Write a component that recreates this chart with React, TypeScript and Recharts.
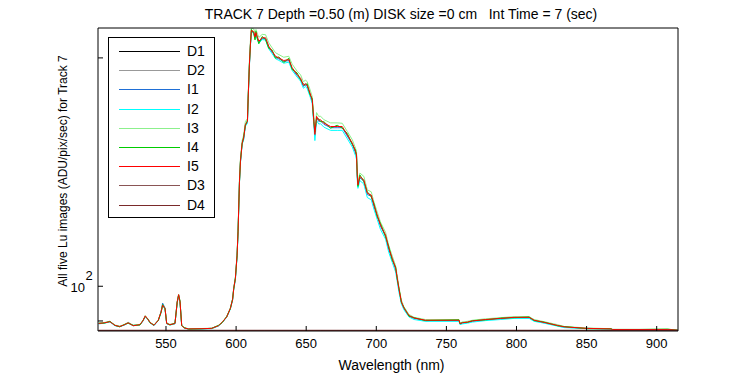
import React from 'react';
import { LineChart, Line, XAxis, YAxis, Legend } from 'recharts';

const WAVELENGTHS = [
  502, 506, 510, 513.6, 517, 520, 523, 526.6, 531.4, 533.5,
  535.2, 537, 538.6, 541.4, 544.5, 546.5, 547.6, 549.3, 550.5, 552.8,
  556.4, 558, 559, 560, 561.2, 563, 566, 575, 582.6, 587.4,
  590, 593.3, 595.9, 597.5, 598.3, 599.5, 600.7, 601.4, 602.4, 603.1,
  604.3, 605.4, 606.6, 608.1, 608.6, 609.5, 610.2, 610.9, 612.6, 613.5,
  614.2, 615, 616.2, 618.6, 621, 623.3, 625.7, 628.1, 630.5, 634,
  637.6, 640, 643.6, 646, 648, 649.5, 650.7, 652.6, 654.3, 655.4,
  656.2, 657.4, 659, 660.2, 662.6, 667.4, 672.1, 675.7, 679.3, 682.9,
  685.2, 685.9, 686.4, 686.9, 688.3, 691.1, 693.6, 696.4, 698.3, 700.6,
  703, 706.6, 708.9, 711.4, 713.8, 715, 716.1, 717.9, 719.7, 723.3,
  727, 735, 759, 759.7, 761.4, 765, 768.6, 778, 788.8, 798.3,
  809, 812.6, 819.7, 829.3, 834, 850.7, 867.4, 868.6, 907.9, 915,
];

const I1 = [
  89.3, 89.5, 89.8, 88.8, 88.5, 88.9, 89.6, 88.8, 89.0, 90.0,
  91.3, 90.5, 89.6, 88.8, 90.2, 92.6, 95.0, 93.6, 89.3, 89.0,
  89.3, 95.3, 97.3, 95.3, 88.8, 88.1, 87.9, 87.9, 88.0, 88.7,
  89.6, 91.1, 93.5, 96.0, 99.3, 102.4, 109.8, 117.8, 137.2, 145.8,
  154.2, 156.5, 163.0, 164.5, 176.8, 195.6, 208.0, 217.0, 216.0, 212.5,
  215.2, 213.0, 209.8, 212.0, 212.0, 206.6, 203.5, 200.4, 199.4, 197.8,
  198.4, 193.5, 189.5, 187.4, 183.4, 184.4, 183.4, 179.4, 175.4, 165.4,
  158.0, 166.9, 164.9, 165.2, 163.5, 161.8, 161.8, 161.8, 157.8, 153.8,
  149.9, 148.4, 139.7, 135.5, 139.0, 137.6, 132.1, 131.4, 127.5, 123.8,
  120.0, 116.4, 111.8, 108.5, 105.3, 102.2, 99.1, 95.3, 93.5, 91.4,
  90.7, 90.1, 90.1, 89.2, 89.4, 89.6, 89.9, 90.3, 90.6, 90.9,
  90.9, 90.1, 89.5, 88.7, 88.3, 88.0, 87.85, 87.7, 87.7, 87.5,
];

const I2 = [
  89.2, 89.4, 89.7, 88.7, 88.5, 88.8, 89.4, 88.7, 88.9, 89.9,
  91.2, 90.4, 89.5, 88.7, 90.1, 92.3, 94.2, 93.3, 89.2, 88.9,
  89.2, 95.1, 97.2, 95.2, 88.7, 88.0, 87.8, 87.8, 87.9, 88.6,
  89.5, 91.0, 93.3, 95.8, 99.0, 102.0, 109.4, 117.5, 136.8, 145.4,
  153.7, 156.0, 162.5, 164.0, 176.2, 195.0, 207.3, 216.4, 215.4, 212.0,
  214.5, 212.4, 209.0, 211.4, 211.2, 205.6, 202.6, 199.5, 198.5, 196.8,
  197.4, 192.5, 188.6, 186.4, 182.4, 183.4, 182.2, 178.2, 174.2, 163.8,
  155.6, 165.4, 163.6, 163.8, 162.1, 160.5, 160.5, 160.5, 156.5, 152.6,
  148.6, 147.0, 138.4, 134.6, 137.8, 136.4, 130.9, 130.0, 126.4, 122.6,
  118.8, 115.4, 110.8, 107.5, 104.4, 101.3, 98.3, 94.8, 93.1, 91.1,
  90.4, 89.9, 89.9, 89.0, 89.2, 89.4, 89.7, 90.1, 90.4, 90.7,
  90.7, 89.9, 89.4, 88.6, 88.2, 87.9, 87.8, 87.6, 87.6, 87.4,
];

const I3 = [
  89.4, 89.6, 89.9, 88.9, 88.6, 89.0, 89.6, 88.8, 89.1, 90.1,
  91.5, 90.6, 89.7, 88.9, 90.3, 92.6, 94.5, 93.6, 89.4, 89.1,
  89.4, 95.5, 97.6, 95.5, 88.9, 88.2, 87.9, 87.95, 88.05, 88.8,
  89.7, 91.2, 93.7, 96.2, 99.6, 102.8, 110.4, 118.6, 138.2, 147.0,
  155.6, 158.2, 164.8, 166.4, 178.8, 198.0, 210.4, 219.0, 218.4, 215.6,
  218.0, 215.8, 212.8, 214.8, 214.6, 209.4, 206.2, 203.2, 202.0, 200.4,
  201.0, 196.2, 192.0, 190.0, 186.0, 187.0, 186.0, 182.0, 177.8, 168.0,
  160.4, 169.4, 167.4, 167.6, 165.8, 164.2, 164.2, 164.0, 160.0, 156.0,
  152.0, 150.5, 141.6, 137.4, 141.0, 139.6, 134.0, 133.2, 129.2, 125.4,
  121.5, 117.8, 113.2, 109.6, 106.4, 103.1, 99.9, 95.9, 94.0, 91.8,
  91.0, 90.4, 90.4, 89.5, 89.7, 89.9, 90.2, 90.6, 90.9, 91.2,
  91.2, 90.4, 89.8, 89.0, 88.5, 88.1, 87.9, 87.75, 87.75, 87.55,
];

const I4 = [
  89.4, 89.4, 89.9, 88.8, 88.4, 89.0, 89.4, 88.8, 88.9, 90.1,
  91.2, 90.6, 89.5, 88.9, 90.1, 92.4, 94.6, 93.4, 89.4, 88.9,
  89.4, 95.2, 97.4, 95.6, 88.7, 88.2, 87.8, 87.9, 88.0, 88.8,
  89.5, 91.2, 93.4, 96.2, 99.1, 102.6, 109.6, 118.3, 137.0, 146.4,
  154.0, 157.4, 162.8, 165.6, 176.6, 196.6, 207.6, 218.0, 215.4, 211.2,
  216.8, 212.4, 208.8, 213.4, 211.4, 205.8, 204.8, 199.8, 200.6, 197.2,
  199.8, 193.0, 191.0, 187.0, 184.8, 184.2, 185.0, 179.0, 176.8, 165.0,
  159.6, 166.4, 166.2, 164.8, 164.8, 161.6, 163.0, 161.6, 159.0, 153.8,
  151.2, 148.4, 141.0, 135.4, 140.2, 137.4, 133.2, 131.2, 128.6, 123.6,
  121.0, 116.2, 112.8, 108.2, 106.0, 102.0, 99.6, 95.2, 93.8, 91.3,
  90.9, 90.1, 90.3, 89.2, 89.6, 89.6, 90.1, 90.3, 90.8, 90.9,
  91.1, 90.1, 89.7, 88.7, 88.5, 87.9, 87.9, 87.6, 87.8, 87.5,
];

const I5 = [
  89.3, 89.5, 89.8, 88.8, 88.5, 88.9, 89.5, 88.7, 89.0, 90.0,
  91.4, 90.5, 89.6, 88.8, 90.2, 92.5, 94.4, 93.5, 89.3, 89.0,
  89.3, 95.4, 97.5, 95.4, 88.8, 88.1, 87.85, 87.9, 88.0, 88.7,
  89.6, 91.1, 93.5, 96.0, 99.3, 102.4, 109.9, 118.0, 137.4, 146.0,
  154.4, 156.8, 163.3, 164.9, 177.1, 196.0, 208.3, 217.4, 216.5, 213.0,
  216.0, 213.6, 210.4, 212.6, 212.6, 207.2, 204.1, 201.0, 200.0, 198.4,
  199.0, 194.1, 190.1, 188.0, 184.0, 185.0, 184.0, 180.0, 176.0, 166.0,
  158.5, 167.5, 165.5, 165.8, 164.1, 162.4, 162.4, 162.4, 158.4, 154.4,
  150.5, 149.0, 140.2, 136.0, 139.5, 138.1, 132.6, 131.9, 128.0, 124.2,
  120.4, 116.8, 112.2, 108.8, 105.6, 102.4, 99.3, 95.4, 93.6, 91.5,
  90.8, 90.2, 90.2, 89.3, 89.5, 89.7, 90.0, 90.4, 90.7, 91.0,
  91.0, 90.2, 89.6, 88.8, 88.4, 88.0, 87.85, 87.7, 87.7, 87.5,
];

const DARK_WAVELENGTHS = [502, 540, 580, 620, 660, 700, 740, 780, 820, 860, 900, 915];
const D1 = [87.4, 87.36, 87.4, 87.38, 87.41, 87.36, 87.4, 87.38, 87.4, 87.37, 87.4, 87.38];
const D2 = [87.42, 87.4, 87.43, 87.39, 87.42, 87.4, 87.41, 87.43, 87.4, 87.42, 87.39, 87.41];
const D3 = [87.47, 87.45, 87.48, 87.46, 87.47, 87.44, 87.47, 87.46, 87.48, 87.45, 87.46, 87.47];
const D4 = [87.46, 87.48, 87.45, 87.47, 87.46, 87.48, 87.45, 87.47, 87.46, 87.47, 87.48, 87.46];

const X_TICKS = [550, 600, 650, 700, 750, 800, 850, 900];
const Y_TICKS = [90, 100, 200];
const X_DOMAIN = [501.5, 915.2];
const Y_DOMAIN = [87.3, 219];

const TITLE = 'TRACK 7 Depth =0.50 (m) DISK size =0 cm   Int Time = 7 (sec)';
const X_LABEL = 'Wavelength (nm)';
const Y_LABEL = 'All five Lu images (ADU/pix/sec) for Track 7';

const SERIES_ORDER = ['D1', 'D2', 'I1', 'I2', 'I3', 'I4', 'I5', 'D3', 'D4'];
const COLORS: Record<string, string> = {
  D1: '#000000',
  D2: '#999999',
  I1: '#1f6fd6',
  I2: '#00ffff',
  I3: '#8cf08c',
  I4: '#00cc00',
  I5: '#ff0000',
  D3: '#8a5555',
  D4: '#7a2a2a',
};

const lightData = WAVELENGTHS.map((w, i) => ({
  w,
  I1: I1[i],
  I2: I2[i],
  I3: I3[i],
  I4: I4[i],
  I5: I5[i],
}));

const darkData = (vals: number[]) => DARK_WAVELENGTHS.map((w, i) => ({ w, v: vals[i] }));
const DARK: Record<string, { w: number; v: number }[]> = {
  D1: darkData(D1),
  D2: darkData(D2),
  D3: darkData(D3),
  D4: darkData(D4),
};

const FONT = '"Liberation Sans", Arial, Helvetica, sans-serif';

const YTick = (props: any) => {
  const { x, y, payload } = props;
  if (payload.value !== 100) return <g />;
  return (
    <g fontFamily={FONT} fill="#000">
      <text x={x - 7} y={y + 5.5} textAnchor="end" fontSize={13}>10</text>
      <text x={x - 6.5} y={y - 6.5} textAnchor="start" fontSize={13}>2</text>
    </g>
  );
};

const renderLegend = (props: any) => {
  const payload = [...(props.payload || [])].sort(
    (a: any, b: any) => SERIES_ORDER.indexOf(a.value) - SERIES_ORDER.indexOf(b.value)
  );
  return (
    <div
      style={{
        width: 107,
        height: 181,
        border: '1px solid #000',
        background: '#fff',
        boxSizing: 'border-box',
        position: 'relative',
        fontFamily: FONT,
      }}
    >
      {payload.map((p: any, i: number) => (
        <div
          key={p.value}
          style={{
            position: 'absolute',
            left: 10,
            top: 5 + i * 19.2,
            height: 16,
            display: 'flex',
            alignItems: 'center',
          }}
        >
          <svg width={62} height={16} style={{ display: 'block' }}>
            <line x1={0} y1={8.5} x2={61} y2={8.5} stroke={p.color} strokeWidth={1} />
          </svg>
          <span style={{ marginLeft: 6, fontSize: 14, lineHeight: '16px', color: '#000' }}>{p.value}</span>
        </div>
      ))}
    </div>
  );
};

export default function App() {
  return (
    <div style={{ position: 'relative', width: 750, height: 375, background: '#fff' }}>
      <style>{`body{margin:0;background:#fff}`}</style>
      <LineChart
        width={750}
        height={375}
        data={lightData}
        margin={{ top: 0, right: 0, bottom: 0, left: 0 }}
      >
        <XAxis
          xAxisId={0}
          dataKey="w"
          type="number"
          domain={X_DOMAIN}
          ticks={X_TICKS}
          allowDataOverflow
          height={44}
          tickSize={-5}
          tickMargin={13}
          stroke="#000"
          tick={{ fill: '#000', fontSize: 13, fontFamily: FONT }}
        />
        <XAxis
          xAxisId="top"
          orientation="top"
          dataKey="w"
          type="number"
          domain={X_DOMAIN}
          ticks={X_TICKS}
          allowDataOverflow
          height={28}
          tickSize={-5}
          tick={false}
          stroke="#000"
        />
        <YAxis
          yAxisId={0}
          type="number"
          scale="log"
          domain={Y_DOMAIN}
          ticks={Y_TICKS}
          allowDataOverflow
          width={98}
          tickSize={-5}
          tickMargin={11}
          stroke="#000"
          tick={<YTick />}
        />
        <YAxis
          yAxisId="right"
          orientation="right"
          type="number"
          scale="log"
          domain={Y_DOMAIN}
          ticks={Y_TICKS}
          allowDataOverflow
          width={72}
          tickSize={-5}
          tick={false}
          stroke="#000"
        />
        <Legend
          layout="horizontal"
          verticalAlign="middle"
          align="center"
          content={renderLegend}
          wrapperStyle={{ left: 108, top: 37, width: 107, height: 181 }}
        />
        {SERIES_ORDER.map((name) =>
          name.startsWith('D') ? (
            <Line
              key={name}
              name={name}
              data={DARK[name]}
              dataKey="v"
              stroke={COLORS[name]}
              strokeWidth={1}
              dot={false}
              activeDot={false}
              isAnimationActive={false}
              type="linear"
            />
          ) : (
            <Line
              key={name}
              name={name}
              dataKey={name}
              stroke={COLORS[name]}
              strokeWidth={1}
              dot={false}
              activeDot={false}
              isAnimationActive={false}
              type="linear"
            />
          )
        )}
      </LineChart>
      <svg
        width={750}
        height={375}
        style={{ position: 'absolute', left: 0, top: 0, pointerEvents: 'none' }}
        fontFamily={FONT}
      >
        <text x={401} y={19} textAnchor="middle" fontSize={14} fill="#000" style={{ whiteSpace: 'pre' }}>
          {TITLE}
        </text>
        <text x={391.5} y={370} textAnchor="middle" fontSize={14} fill="#000">
          {X_LABEL}
        </text>
        <text
          x={67}
          y={171}
          textAnchor="middle"
          fontSize={12}
          fill="#000"
          transform="rotate(-90, 67, 171)"
        >
          {Y_LABEL}
        </text>
      </svg>
    </div>
  );
}
